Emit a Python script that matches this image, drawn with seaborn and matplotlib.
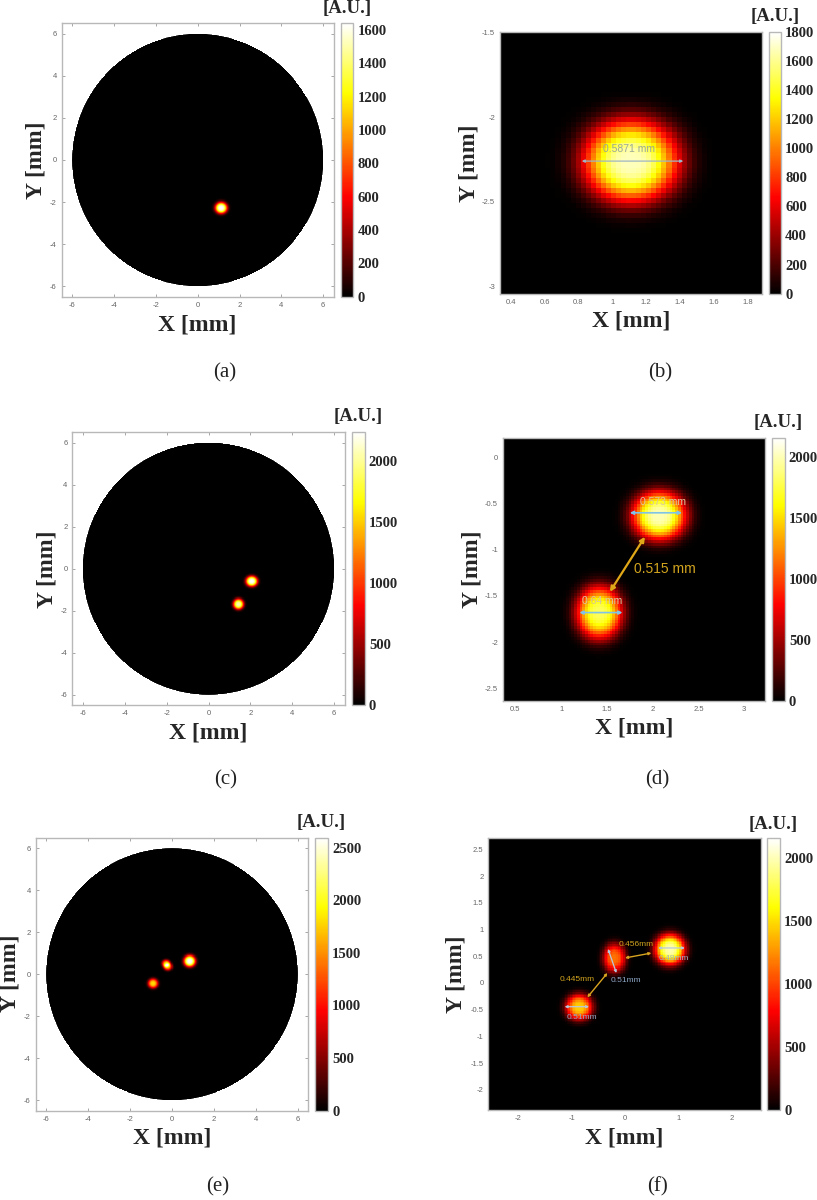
import numpy as np
import matplotlib
matplotlib.use("Agg")
import matplotlib.pyplot as plt
from matplotlib.colors import ListedColormap
from matplotlib.patches import Circle
import seaborn as sns

W, H = 817, 1200

# spots: x, y [mm], peak [A.U.], width x, width y [mm]
# cells of the heatmaps are filled from these with a radial falloff (estimate, not cell readings)
spots_a = [(1.13, -2.27, 1640, 0.29, 0.27)]
spots_b = [(1.11, -2.26, 1680, 0.28, 0.24)]
spots_c = [(2.07, -0.60, 2235, 0.28, 0.25), (1.43, -1.68, 2050, 0.25, 0.25)]
spots_d = [(2.07, -0.63, 2000, 0.29, 0.26), (1.416, -1.68, 1800, 0.25, 0.28)]
spots_e = [(0.84, 0.63, 2595, 0.28, 0.27), (-0.27, 0.52, 1550, 0.20, 0.18),
           (-0.19, 0.36, 1450, 0.20, 0.18), (-0.90, -0.44, 1800, 0.24, 0.23)]
spots_f = [(0.84, 0.63, 1980, 0.28, 0.28), (-0.20, 0.47, 1150, 0.21, 0.27),
           (-0.86, -0.45, 1450, 0.25, 0.24)]

ticks_wide = [-6, -4, -2, 0, 2, 4, 6]
xticks_b = [0.4, 0.6, 0.8, 1, 1.2, 1.4, 1.6, 1.8]
yticks_b = [-1.5, -2, -2.5, -3]
xticks_d = [0.5, 1, 1.5, 2, 2.5, 3]
yticks_d = [0, -0.5, -1, -1.5, -2, -2.5]
xticks_f = [-2, -1, 0, 1, 2]
yticks_f = [2.5, 2, 1.5, 1, 0.5, 0, -0.5, -1, -1.5, -2]
cbar_a = [0, 200, 400, 600, 800, 1000, 1200, 1400, 1600]
cbar_b = [0, 200, 400, 600, 800, 1000, 1200, 1400, 1600, 1800]
cbar_cf = [0, 500, 1000, 1500, 2000]
cbar_e = [0, 500, 1000, 1500, 2000, 2500]
vmax_vals = [1640, 1800, 2235, 2160, 2595, 2159]

# measurement arrows and labels: x1, y1, x2, y2 / x, y, text
arrows_b = [(0.82, -2.26, 1.42, -2.26)]
labels_b = [(1.10, -2.19, "0.5871 mm", "#9aa89a", 7.5)]
arrows_d = [(1.75, -0.60, 2.32, -0.60), (1.20, -1.68, 1.67, -1.68)]
labels_d = [(2.11, -0.48, "0.573 mm", "#d8c8a0", 7.5), (1.45, -1.56, "0.64 mm", "#d8c8a0", 7.5)]
gold_d = [(1.915, -0.86, 1.533, -1.455)]
gold_labels_d = [(2.13, -1.21, "0.515 mm", "#d2a41e", 10)]
arrows_f = [(0.62, 0.655, 1.12, 0.655), (-0.318, 0.636, -0.162, 0.187), (-1.13, -0.443, -0.674, -0.443)]
labels_f = [(0.92, 0.455, "0.48mm", "#9fb0c4", 6), (0.01, 0.05, "0.51mm", "#8ea8c8", 6),
            (-0.81, -0.65, "0.51mm", "#8ea8c8", 6)]
gold_f = [(0.493, 0.56, 0.0, 0.468), (-0.33, 0.187, -0.705, -0.268)]
gold_labels_f = [(0.20, 0.717, "0.456mm", "#d2a41e", 6), (-0.905, 0.056, "0.445mm", "#d2a41e", 6)]

sns.set_theme(style="white")
plt.rcParams["font.family"] = ["Liberation Serif", "DejaVu Serif"]

# hot map, but starting from pure black like the figure
hot_colors = plt.get_cmap("hot")(np.linspace(0, 1, 256))
hot_colors[:94, 0] = np.linspace(0, 1, 94)
black_hot = ListedColormap(hot_colors)


def px_axes(fig, x0, y0, x1, y1):
    return fig.add_axes([x0 / W, 1 - y1 / H, (x1 - x0) / W, (y1 - y0) / H])


def field(xs, ys, spots):
    xx, yy = np.meshgrid(xs, ys)
    z = np.zeros_like(xx)
    for sx, sy, peak, wx, wy in spots:
        r = np.sqrt(((xx - sx) / wx) ** 2 + ((yy - sy) / wy) ** 2)
        z += peak * np.exp(-r ** 3)
    return z


def panel(fig, box, cbox, lims, spots, vmax, xticks, yticks, cticks, circle=False):
    xmin, xmax, ymin, ymax = lims
    step = (xmax - xmin) / 540 if circle else 0.03
    nx = int(round((xmax - xmin) / step))
    ny = int(round((ymax - ymin) / step))
    dx = (xmax - xmin) / nx
    dy = (ymax - ymin) / ny
    xs = xmin + dx * (np.arange(nx) + 0.5)
    ys = ymax - dy * (np.arange(ny) + 0.5)
    z = field(xs, ys, spots)
    mask = None
    if circle:
        xx, yy = np.meshgrid(xs, ys)
        mask = xx ** 2 + yy ** 2 > 36

    ax = px_axes(fig, *box)
    cax = px_axes(fig, *cbox)
    sns.heatmap(z, ax=ax, cbar_ax=cax, cmap=black_hot, vmin=0, vmax=vmax, mask=mask,
                xticklabels=False, yticklabels=False, rasterized=True)
    ax.set_xticks([(t - xmin) / dx for t in xticks])
    ax.set_yticks([(ymax - t) / dy for t in yticks])
    ax.set_xticklabels([f"{t:g}" for t in xticks], rotation=0, family="Liberation Sans",
                       fontsize=5.5, color="#666666")
    ax.set_yticklabels([f"{t:g}" for t in yticks], rotation=0, family="Liberation Sans",
                       fontsize=5.5, color="#666666")
    ax.tick_params(direction="in", length=2.5 if circle else 0, width=0.6, color="#999999",
                   top=circle, right=circle, bottom=True, left=True, pad=3.5)
    for s in ax.spines.values():
        s.set_visible(True)
        s.set_color("#b8b8b8")
        s.set_linewidth(1.0)

    to_x = lambda v: (v - xmin) / dx
    to_y = lambda v: (ymax - v) / dy

    if circle:
        # soft white ring hides the stair steps of the mask edge
        ax.add_patch(Circle((to_x(0), to_y(0)), (6.0 + 0.04) / dx, fill=False, ec="white", lw=1.0))

    cb = ax.collections[0].colorbar
    cb.set_ticks(cticks)
    cb.ax.tick_params(direction="in", length=2, width=0.5, color="#999999", pad=3)
    for t in cb.ax.get_yticklabels():
        t.set_fontsize(10.5)
        t.set_fontweight("bold")
        t.set_color("#262626")
    cb.outline.set_visible(True)
    cb.outline.set_edgecolor("#b8b8b8")
    cb.outline.set_linewidth(1.0)

    return ax, to_x, to_y


def draw_marks(trans, arrows, labels, color, lw=1.0, ms=5):
    ax, to_x, to_y = trans
    for x1, y1, x2, y2 in arrows:
        ax.annotate("", xy=(to_x(x2), to_y(y2)), xytext=(to_x(x1), to_y(y1)),
                    arrowprops=dict(arrowstyle="<|-|>", color=color, lw=lw, mutation_scale=ms,
                                    shrinkA=0, shrinkB=0))
    for x, y, txt, c, fs in labels:
        ax.text(to_x(x), to_y(y), txt, color=c, fontsize=fs, ha="center", va="center",
                family="Liberation Sans")


def label_text(fig, x, y, txt, size, bold=True, rot=0, color="#262626"):
    fig.text(x / W, 1 - y / H, txt, fontsize=size, fontweight="bold" if bold else "normal",
             rotation=rot, ha="center", va="center", color=color)


fig = plt.figure(figsize=(W / 100, H / 100), dpi=100, facecolor="white")

wide = (-6.5, 6.5, -6.5, 6.5)
panel(fig, (61.7, 23.3, 333.7, 296.7), (341, 23.3, 353.3, 296.7), wide, spots_a, vmax_vals[0],
      ticks_wide, ticks_wide[::-1], cbar_a, circle=True)
pb = panel(fig, (500, 31.7, 762.3, 293.7), (769, 31.7, 781, 293.7), (0.337, 1.887, -3.045, -1.494),
           spots_b, vmax_vals[1], xticks_b, yticks_b, cbar_b)
panel(fig, (72.3, 432, 344.7, 705.3), (351.7, 432, 364.7, 705.3), wide, spots_c, vmax_vals[2],
      ticks_wide, ticks_wide[::-1], cbar_cf, circle=True)
pd_ = panel(fig, (503, 437.7, 765.3, 700.7), (771.7, 437.7, 784.7, 700.7), (0.365, 3.23, -2.634, 0.213),
            spots_d, vmax_vals[3], xticks_d, yticks_d, cbar_cf)
panel(fig, (35.7, 837.7, 308.3, 1110.7), (315, 837.7, 328, 1110.7), wide, spots_e, vmax_vals[4],
      ticks_wide, ticks_wide[::-1], cbar_e, circle=True)
pf = panel(fig, (488.3, 838.3, 760.7, 1110.3), (766.7, 838.3, 780, 1110.3), (-2.56, 2.54, -2.38, 2.705),
           spots_f, vmax_vals[5], xticks_f, yticks_f, cbar_cf)

draw_marks(pb, arrows_b, labels_b, "#9fb4c4", lw=0.9, ms=4)
draw_marks(pd_, arrows_d, labels_d, "#7fc4e8", lw=1.2, ms=5)
draw_marks(pd_, gold_d, gold_labels_d, "#e0a818", lw=1.6, ms=7)
draw_marks(pf, arrows_f, labels_f, "#b8c8dc", lw=0.9, ms=3.5)
draw_marks(pf, gold_f, gold_labels_f, "#d9a520", lw=1.0, ms=3.5)

# axis titles, unit labels and panel letters
for x, y in [(197, 325), (631, 321), (208, 733), (634, 728), (172, 1138), (624, 1138)]:
    label_text(fig, x, y, "X [mm]", 17)
for x, y in [(36, 160), (469, 163), (47, 569), (472, 569), (10, 973), (456, 974)]:
    label_text(fig, x, y, "Y [mm]", 17, rot=90)
for x, y in [(347, 8), (775, 17), (358, 417), (778, 423), (321, 823), (773, 824)]:
    label_text(fig, x, y, "[A.U.]", 13.5)
for x, y, t in [(225, 373, "(a)"), (660, 373, "(b)"), (226, 780, "(c)"),
                (657, 780, "(d)"), (218, 1187, "(e)"), (658, 1187, "(f)")]:
    label_text(fig, x, y, t, 15, bold=False, color="#222222")

fig.savefig("out.png", dpi=100, facecolor="white")
